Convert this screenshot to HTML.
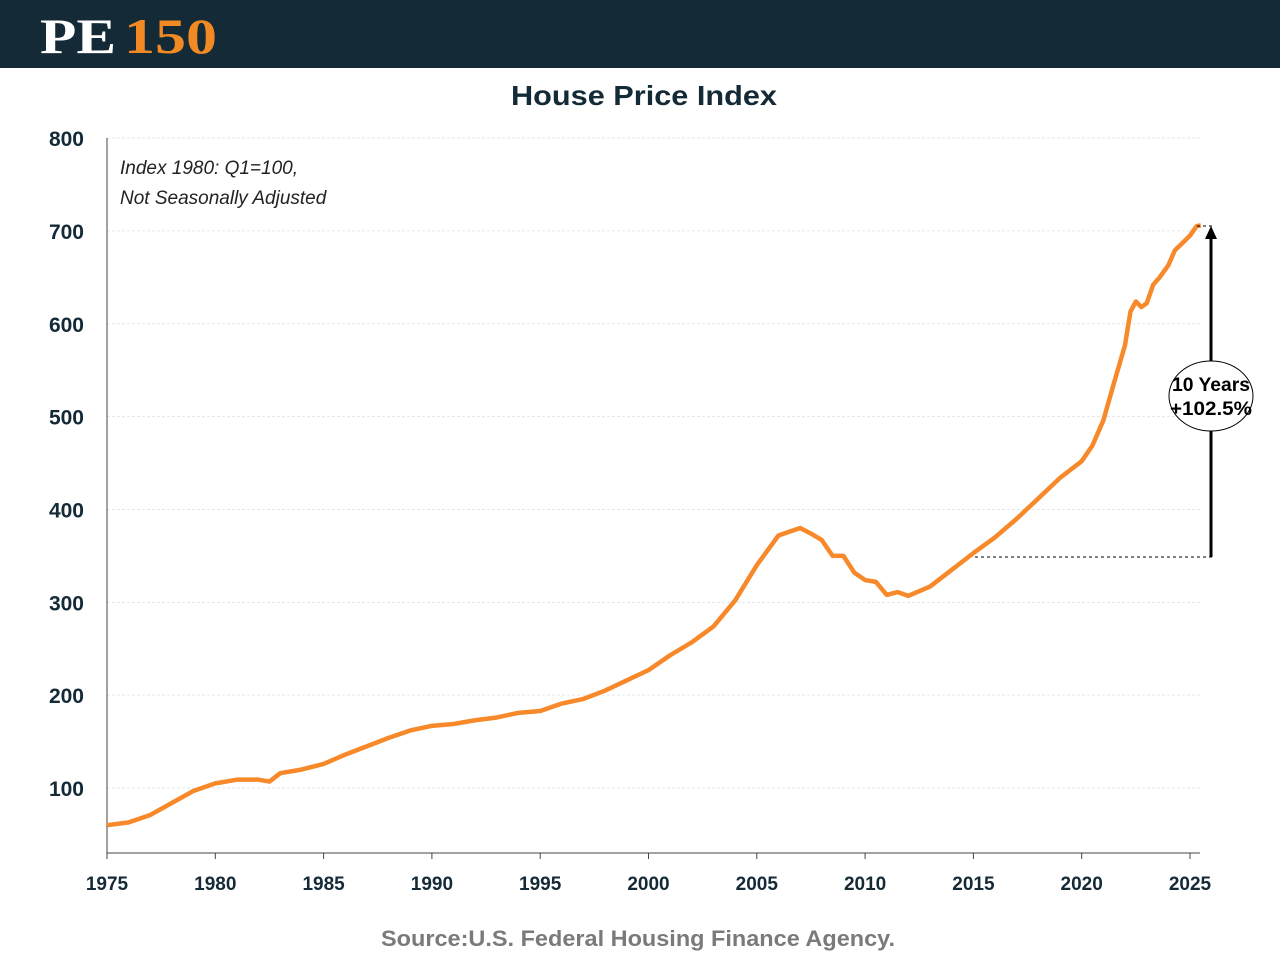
<!DOCTYPE html>
<html><head><meta charset="utf-8"><style>
body{margin:0;width:1280px;height:960px;background:#fff;font-family:"Liberation Sans",sans-serif;overflow:hidden}
</style></head><body>
<svg width="1280" height="960" style="position:absolute;left:0;top:0">
<rect x="0" y="0" width="1280" height="68" fill="#142a37"/>
<text x="40" y="53" font-family="Liberation Serif,serif" font-weight="bold" font-size="50" fill="#fff" textLength="76" lengthAdjust="spacingAndGlyphs">PE</text>
<text x="124" y="53" font-family="Liberation Serif,serif" font-weight="bold" font-size="50" fill="#f28a24" textLength="93" lengthAdjust="spacingAndGlyphs">150</text>
<text x="511" y="105" font-weight="bold" font-size="28" fill="#142a37" textLength="266" lengthAdjust="spacingAndGlyphs">House Price Index</text>
<text x="120" y="174" font-style="italic" font-size="19" fill="#222">Index 1980: Q1=100,</text>
<text x="120" y="204" font-style="italic" font-size="19" fill="#222">Not Seasonally Adjusted</text>
<g id="grid"></g><g id="axes"></g><g id="series"></g>
<line x1="975" y1="557" x2="1215" y2="557" stroke="#000" stroke-dasharray="3,3"/>
<line x1="1197" y1="226" x2="1215" y2="226" stroke="#000" stroke-dasharray="3,3"/>
<line x1="1211" y1="557" x2="1211" y2="236" stroke="#000" stroke-width="3"/>
<polygon points="1211,226 1205,239 1217,239" fill="#000"/>
<ellipse cx="1211" cy="396" rx="42" ry="35" fill="#fff" stroke="#000"/>
<text x="1172" y="391" font-weight="bold" font-size="19" textLength="78" lengthAdjust="spacingAndGlyphs">10 Years</text>
<text x="1170" y="415" font-weight="bold" font-size="19" textLength="82" lengthAdjust="spacingAndGlyphs">+102.5%</text>
<text x="381" y="946" font-weight="bold" font-size="22" fill="#7a7a7a" textLength="514" lengthAdjust="spacingAndGlyphs">Source:U.S. Federal Housing Finance Agency.</text>
</svg>
<script>
const years=[1975,1976,1977,1978,1979,1980,1981,1982,1982.5,1983,1984,1985,1986,1987,1988,1989,1990,1991,1992,1993,1994,1995,1996,1997,1998,1999,2000,2001,2002,2003,2004,2005,2006,2007,2007.5,2008,2008.5,2009,2009.5,2010,2010.5,2011,2011.5,2012,2013,2014,2015,2016,2017,2018,2019,2020,2020.5,2021,2021.5,2022,2022.25,2022.5,2022.75,2023,2023.3,2023.6,2024,2024.3,2024.7,2025,2025.3,2025.5];
const values=[60,63,71,84,97,105,109,109,107,116,120,126,136,145,154,162,167,169,173,176,181,183,191,196,205,216,227,243,257,274,302,340,372,380,374,367,350,350,332,324,322,308,311,307,317,335,353,370,390,412,434,452,469,496,537,577,613,624,618,622,642,650,663,679,688,695,705,706];
const yTicks=[100,200,300,400,500,600,700,800];
const xTicks=[1975,1980,1985,1990,1995,2000,2005,2010,2015,2020,2025];
const X=y=>107+(y-1975)*21.66, Y=v=>880.9-v*0.92857;
const NS="http://www.w3.org/2000/svg";
function mk(t,a,p){const e=document.createElementNS(NS,t);for(const k in a)e.setAttribute(k,a[k]);document.getElementById(p).appendChild(e);return e;}
yTicks.forEach(v=>{
 const g=mk('line',{x1:107,x2:1200,y1:Y(v),y2:Y(v),stroke:'#e3e6ea','stroke-dasharray':'3,2'},'grid');
 
 
 const t=mk('text',{x:84,y:Y(v)+8,'text-anchor':'end','font-size':21,'font-weight':'bold',fill:'#142a37'},'axes');t.textContent=v;
 
 
});
const ya=mk('line',{x1:107,x2:107,y1:138,y2:853,stroke:'#444'},'axes');


const xa=mk('line',{x1:107,x2:1200,y1:853,y2:853,stroke:'#444'},'axes');


xTicks.forEach(y=>{
 const tk=mk('line',{x1:X(y),x2:X(y),y1:853,y2:859,stroke:'#444'},'axes');
 
 
 const t=mk('text',{x:X(y),y:890,'text-anchor':'middle','font-size':19,'font-weight':'bold',fill:'#142a37'},'axes');t.textContent=y;
 
 
});
const p=mk('polyline',{points:years.map((y,i)=>X(y)+','+Y(values[i])).join(' '),fill:'none',stroke:'#f7892a','stroke-width':4.5,'stroke-linejoin':'round'},'series');


</script>
</body></html>
